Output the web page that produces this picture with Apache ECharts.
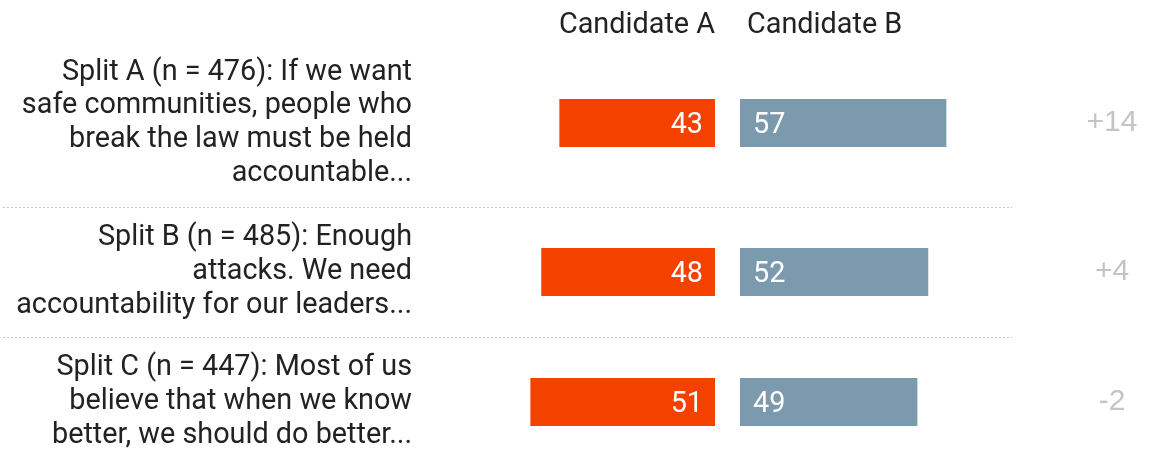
<!DOCTYPE html>
<html>
<head>
<meta charset="utf-8">
<script src="https://cdn.jsdelivr.net/npm/echarts@6/dist/echarts.min.js"></script>
<style>
html,body{margin:0;padding:0;background:#fff;}
#chart{width:1170px;height:451px;}
</style>
</head>
<body>
<div id="chart"></div>
<script>
const categories = [
  'Split A (n = 476): If we want\nsafe communities, people who\nbreak the law must be held\naccountable...',
  'Split B (n = 485): Enough\nattacks. We need\naccountability for our leaders...',
  'Split C (n = 447): Most of us\nbelieve that when we know\nbetter, we should do better...'
];
const seriesNames = ['Candidate A', 'Candidate B'];
const candidateA = [43, 48, 51];
const candidateB = [57, 52, 49];

const FONT = 'Roboto, "Noto Sans", sans-serif';
const FS = 28.8;
const rowTops = [99, 248, 378];
const barH = 48;
const axisMax = 60;
const halfW = 217.2;
const leftA = 715 - halfW;
const leftB = 740;

const grid = [], xAxis = [], yAxis = [], series = [];
categories.forEach((cat, i) => {
  grid.push({left: leftA, width: halfW, top: rowTops[i], height: barH, containLabel: false, outerBoundsMode: 'none'});
  grid.push({left: leftB, width: halfW, top: rowTops[i], height: barH, containLabel: false, outerBoundsMode: 'none'});
  const xa = {type: 'value', min: 0, max: axisMax, show: false};
  xAxis.push(Object.assign({gridIndex: i * 2, inverse: true}, xa));
  xAxis.push(Object.assign({gridIndex: i * 2 + 1}, xa));
  yAxis.push({
    type: 'category', gridIndex: i * 2, data: [cat], position: 'left',
    axisLine: {show: false, onZero: false}, axisTick: {show: false}, splitLine: {show: false},
    axisLabel: {margin: leftA - 412, fontSize: FS, lineHeight: 33.7, color: '#222', fontFamily: FONT, align: 'right'}
  });
  const diff = candidateB[i] - candidateA[i];
  yAxis.push({
    type: 'category', gridIndex: i * 2 + 1, data: [cat], position: 'right',
    axisLine: {show: false, onZero: false}, axisTick: {show: false}, splitLine: {show: false},
    axisLabel: {margin: 1112 - (leftB + halfW), align: 'center', fontSize: 30, color: '#c4c4c4',
      fontFamily: '"Liberation Sans", Arial, sans-serif',
      formatter: () => (diff > 0 ? '+' : '') + diff}
  });
  series.push({
    type: 'bar', name: seriesNames[0], xAxisIndex: i * 2, yAxisIndex: i * 2,
    data: [candidateA[i]], barWidth: barH, silent: true,
    itemStyle: {color: '#f44100'},
    label: {show: true, position: 'insideRight', distance: 12, color: '#fff', fontSize: FS, fontFamily: FONT,
      offset: [0, 2.5]}
  });
  series.push({
    type: 'bar', name: seriesNames[1], xAxisIndex: i * 2 + 1, yAxisIndex: i * 2 + 1,
    data: [candidateB[i]], barWidth: barH, silent: true,
    itemStyle: {color: '#7b9aad'},
    label: {show: true, position: 'insideLeft', distance: 13, color: '#fff', fontSize: FS, fontFamily: FONT,
      offset: [0, 2.5]}
  });
});

const chart = echarts.init(document.getElementById('chart'), null, {renderer: 'canvas'});
chart.setOption({
  backgroundColor: '#fff',
  animation: false,
  title: [
    {text: seriesNames[0], right: 1170 - 715, top: 11, padding: 0,
     textStyle: {fontSize: FS, fontWeight: 'normal', color: '#222', fontFamily: FONT}},
    {text: seriesNames[1], left: 747, top: 11, padding: 0,
     textStyle: {fontSize: FS, fontWeight: 'normal', color: '#222', fontFamily: FONT}}
  ],
  grid, xAxis, yAxis, series,
  graphic: [207.5, 337.5].map(y => ({
    type: 'line', shape: {x1: 3, y1: y, x2: 1012, y2: y},
    style: {stroke: '#c8c8c8', lineWidth: 1, lineDash: [2, 2]}, silent: true
  }))
});
</script>
</body>
</html>
